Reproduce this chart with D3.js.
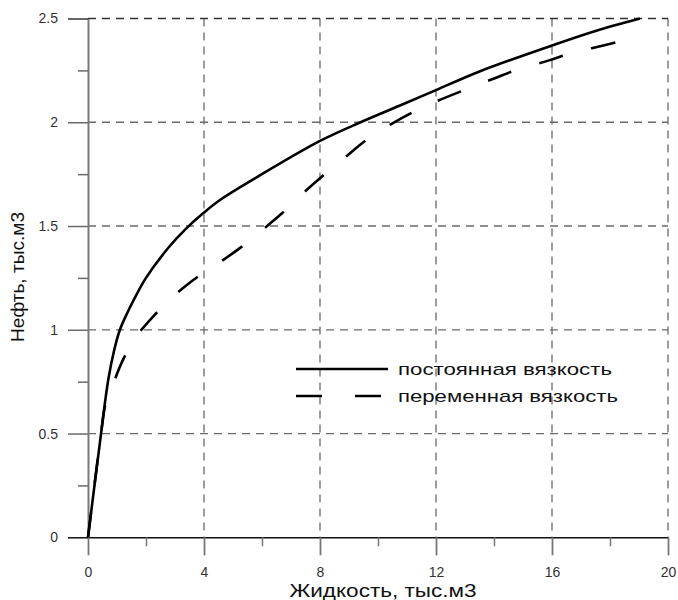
<!DOCTYPE html>
<html>
<head>
<meta charset="utf-8">
<script src="https://cdn.jsdelivr.net/npm/d3@7"></script>
<style>
  body { margin: 0; background: #fff; }
  svg text { font-family: "Liberation Sans", Arial, sans-serif; }
</style>
</head>
<body>
<svg id="chart" width="678" height="600"></svg>
<script>
// values
var constX = [0, 0.45, 0.7, 0.9, 1.1, 1.35, 1.6, 2.0, 2.8, 3.4, 4.0, 4.6, 6.0, 8.0, 9.4, 11.0, 12.0, 13.5, 16.0, 17.5, 19.03];
var constY = [0, 0.5, 0.76, 0.9, 1.0, 1.08, 1.15, 1.25, 1.4, 1.49, 1.565, 1.63, 1.75, 1.91, 2.0, 2.095, 2.155, 2.245, 2.37, 2.44, 2.5];

var varX = [0, 0.45, 0.6, 0.87, 1.19, 1.68, 2.22, 2.94, 3.63, 4.49, 5.2, 6.0, 6.68, 7.43, 8.08, 8.86, 9.55, 10.44, 11.22, 12.0, 13.98, 14.84, 15.87, 16.71, 17.77, 18.66];
var varY = [0, 0.5, 0.64, 0.74, 0.85, 0.97, 1.06, 1.16, 1.24, 1.32, 1.39, 1.48, 1.56, 1.66, 1.74, 1.83, 1.91, 1.99, 2.05, 2.1, 2.21, 2.255, 2.297, 2.335, 2.37, 2.40];

var xMajor = [0, 4, 8, 12, 16, 20];
var xMinor = [2, 6, 10, 14, 18];
var yMajor = [0, 0.5, 1, 1.5, 2, 2.5];
var yMinor = [0.25, 0.75, 1.25, 1.75, 2.25];

var seriesNames = ['постоянная вязкость', 'переменная вязкость'];
var xTitle = 'Жидкость, тыс.м3';
var yTitle = 'Нефть, тыс.м3';

var svg = d3.select('#chart');

var x = d3.scaleLinear().domain([0, 20]).range([88, 668]);
var y = d3.scaleLinear().domain([0, 2.5]).range([537.3, 18.5]);

// grid
svg.append('g')
  .selectAll('line')
  .data(xMajor.slice(1))
  .enter()
  .append('line')
    .attr('x1', function(d){ return x(d) })
    .attr('x2', function(d){ return x(d) })
    .attr('y1', y(2.5))
    .attr('y2', y(0))
    .attr('stroke', '#6a6a6a')
    .attr('stroke-width', 1.3)
    .attr('stroke-dasharray', '8,6');

svg.append('g')
  .selectAll('line')
  .data(yMajor.slice(1))
  .enter()
  .append('line')
    .attr('x1', x(0))
    .attr('x2', x(20))
    .attr('y1', function(d){ return y(d) })
    .attr('y2', function(d){ return y(d) })
    .attr('stroke', function(d){ return d == 2.5 ? '#333' : '#6a6a6a' })
    .attr('stroke-width', 1.3)
    .attr('stroke-dasharray', '8,6');

// x axis
var gx = svg.append('g')
  .attr('transform', 'translate(0,' + y(0) + ')')
  .call(d3.axisBottom(x).tickValues(xMajor).tickSize(18).tickSizeOuter(0).tickPadding(12));
gx.select('.domain').attr('stroke', '#111').attr('stroke-width', 1.5);
gx.selectAll('.tick line').attr('stroke', '#777').attr('stroke-width', 1.8);
gx.selectAll('.tick text').attr('font-size', 14).attr('fill', '#333')
  .attr('font-family', '"Liberation Sans", Arial, sans-serif');

var gxm = svg.append('g')
  .attr('transform', 'translate(0,' + y(0) + ')')
  .call(d3.axisBottom(x).tickValues(xMinor).tickSize(9).tickFormat(''));
gxm.select('.domain').remove();
gxm.selectAll('.tick line').attr('stroke', '#777').attr('stroke-width', 1.5);

// y axis
var gy = svg.append('g')
  .attr('transform', 'translate(' + x(0) + ',0)')
  .call(d3.axisLeft(y).tickValues(yMajor).tickSize(20).tickSizeOuter(0).tickPadding(10));
gy.select('.domain').attr('stroke', '#7a7a7a').attr('stroke-width', 2);
gy.selectAll('.tick line')
  .attr('stroke', function(d){ return d == 0 ? '#111' : (d == 2.5 ? '#333' : '#6a6a6a') })
  .attr('stroke-width', 1.5);
gy.selectAll('.tick text').attr('font-size', 14).attr('fill', '#333')
  .attr('font-family', '"Liberation Sans", Arial, sans-serif')
  .text(function(d){ return d });

var gym = svg.append('g')
  .attr('transform', 'translate(' + x(0) + ',0)')
  .call(d3.axisLeft(y).tickValues(yMinor).tickSize(10).tickFormat(''));
gym.select('.domain').remove();
gym.selectAll('.tick line').attr('stroke', '#6a6a6a').attr('stroke-width', 1.5);

// curves
var line = d3.line()
  .x(function(d){ return x(d[0]) })
  .y(function(d){ return y(d[1]) })
  .curve(d3.curveCatmullRom.alpha(0.5));

svg.append('path')
  .datum(varX.map(function(v, i){ return [v, varY[i]] }))
  .attr('d', line)
  .attr('fill', 'none')
  .attr('stroke', '#000')
  .attr('stroke-width', 2.6)
  .attr('stroke-dasharray', '25,29');

svg.append('path')
  .datum(constX.map(function(v, i){ return [v, constY[i]] }))
  .attr('d', line)
  .attr('fill', 'none')
  .attr('stroke', '#000')
  .attr('stroke-width', 2.6);

// legend
var legend = svg.append('g');
legend.append('line')
  .attr('x1', 296).attr('x2', 388).attr('y1', 369).attr('y2', 369)
  .attr('stroke', '#000').attr('stroke-width', 2.6);
legend.append('line')
  .attr('x1', 296).attr('x2', 381).attr('y1', 396).attr('y2', 396)
  .attr('stroke', '#000').attr('stroke-width', 2.6)
  .attr('stroke-dasharray', '26,33');
legend.selectAll('text')
  .data(seriesNames)
  .enter()
  .append('text')
    .attr('x', 398)
    .attr('y', function(d, i){ return 375 + i * 27 })
    .attr('font-size', 17)
    .attr('fill', '#111')
    .attr('textLength', function(d, i){ return i == 0 ? 214 : 220 })
    .attr('lengthAdjust', 'spacingAndGlyphs')
    .text(function(d){ return d });

// axis titles
svg.append('text')
  .attr('x', 383)
  .attr('y', 597)
  .attr('text-anchor', 'middle')
  .attr('font-size', 18)
  .attr('fill', '#111')
  .attr('textLength', 187)
  .attr('lengthAdjust', 'spacingAndGlyphs')
  .text(xTitle);

svg.append('text')
  .attr('transform', 'translate(24,277) rotate(-90)')
  .attr('text-anchor', 'middle')
  .attr('font-size', 18)
  .attr('fill', '#111')
  .attr('textLength', 130)
  .attr('lengthAdjust', 'spacingAndGlyphs')
  .text(yTitle);
</script>
</body>
</html>
